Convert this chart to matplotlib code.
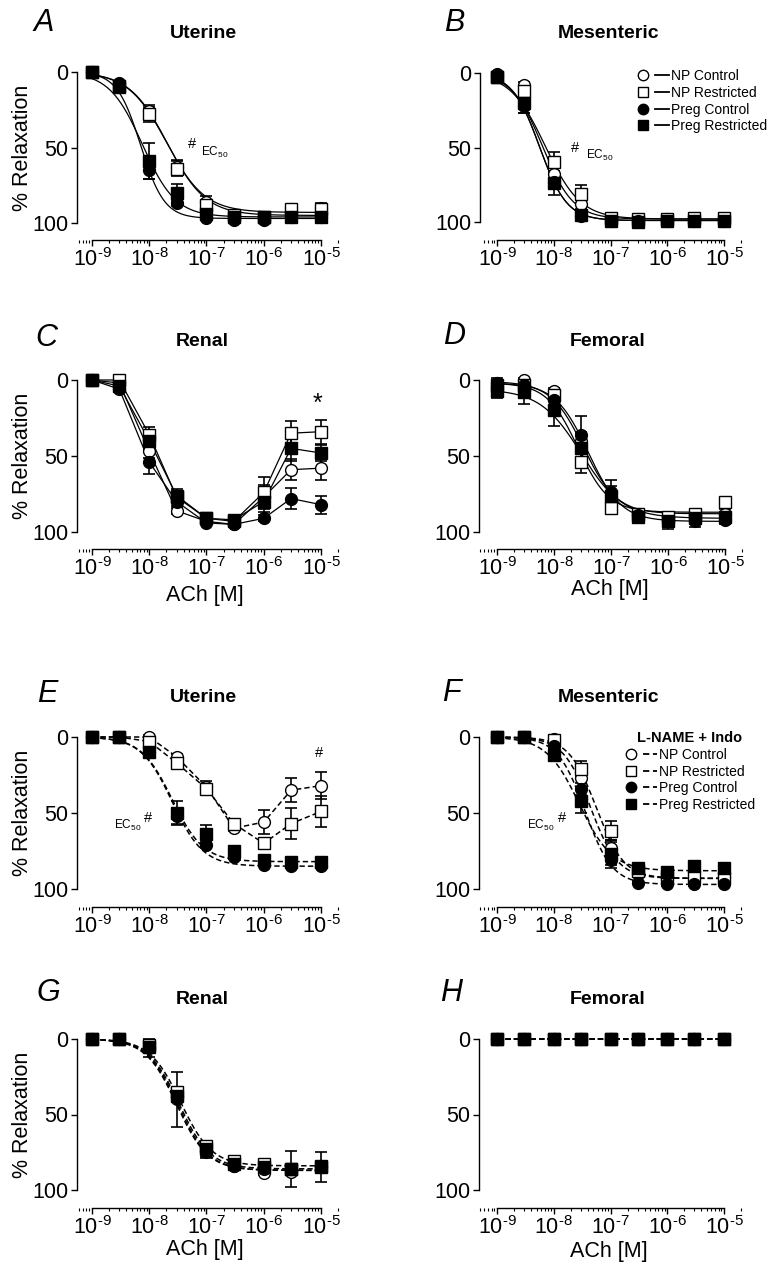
import numpy as np
import matplotlib.pyplot as plt
from matplotlib.lines import Line2D
from matplotlib.legend_handler import HandlerTuple
from matplotlib.ticker import LogLocator, NullFormatter, FixedLocator, FixedFormatter

plt.rcParams['font.family'] = ['Liberation Sans', 'DejaVu Sans']
plt.rcParams['mathtext.fontset'] = 'custom'
plt.rcParams['mathtext.rm'] = 'Liberation Sans'
plt.rcParams['mathtext.it'] = 'Liberation Sans:italic'
plt.rcParams['mathtext.bf'] = 'Liberation Sans:bold'

# ACh concentrations (M)
conc = [1e-9, 3e-9, 1e-8, 3e-8, 1e-7, 3e-7, 1e-6, 3e-6, 1e-5]
groups = ['NP Control', 'NP Restricted', 'Preg Control', 'Preg Restricted']
xtick_vals = [1e-9, 1e-8, 1e-7, 1e-6, 1e-5]
xtick_labels = ['$10^{\u2010 9}$', '$10^{\u2010 8}$', '$10^{\u2010 7}$',
                '$10^{\u2010 6}$', '$10^{\u2010 5}$']

# A - Uterine
a_np_ctrl = [0, 8, 26, 63, 86, 95, 96, 91, 90]
a_np_restr = [0, 9, 28, 64, 88, 95, 96, 91, 91]
a_preg_ctrl = [0, 7, 65, 87, 97, 98, 98, 96, 96]
a_preg_restr = [0, 10, 59, 80, 94, 96, 96, 96, 96]
a_err = [[0, 1, 4, 5, 4, 1, 1, 3, 3], [0, 1, 5, 5, 3, 1, 1, 3, 3],
         [0, 1, 6, 2, 1, 1, 1, 1, 1], [0, 2, 12, 6, 2, 1, 1, 1, 1]]
a_logec = [-7.70, -7.68, -8.15, -8.12]
a_hill = [1.3, 1.3, 2.1, 1.5]
a_max = [93, 95, 97, 96]
a_min = [0, 0, 0, 0]

# B - Mesenteric
b_np_ctrl = [2, 8, 68, 88, 98, 98, 98, 98, 98]
b_np_restr = [3, 12, 60, 81, 97, 98, 98, 97, 97]
b_preg_ctrl = [1, 22, 73, 96, 99, 99, 99, 99, 99]
b_preg_restr = [3, 20, 74, 95, 99, 100, 99, 99, 99]
b_err = [[1, 2, 4, 3, 1, 1, 1, 1, 1], [2, 3, 7, 6, 1, 1, 1, 1, 1],
         [1, 5, 5, 1, 1, 1, 1, 1, 1], [2, 7, 8, 1, 1, 1, 1, 1, 1]]
b_logec = [-8.20, -8.15, -8.25, -8.25]
b_hill = [1.6, 1.4, 1.8, 1.8]
b_max = [98, 98, 99, 99]
b_min = [0, 0, 0, 0]

# C - Renal (points joined)
c_np_ctrl = [0, 2, 47, 86, 93, 95, 77, 59, 58]
c_np_restr = [0, 0, 36, 77, 91, 93, 74, 35, 34]
c_preg_ctrl = [0, 6, 54, 80, 94, 95, 91, 78, 82]
c_preg_restr = [0, 4, 40, 76, 91, 92, 80, 45, 48]
c_err = [[0, 1, 4, 2, 1, 1, 8, 7, 8], [0, 1, 5, 3, 2, 1, 10, 8, 8],
         [0, 1, 8, 3, 1, 1, 2, 7, 6], [0, 1, 6, 4, 1, 2, 7, 8, 5]]

# D - Femoral
d_np_ctrl = [2, 0, 7, 40, 80, 88, 91, 89, 88]
d_np_restr = [3, 3, 10, 54, 84, 88, 90, 88, 80]
d_preg_ctrl = [2, 3, 13, 36, 74, 89, 93, 93, 92]
d_preg_restr = [7, 8, 20, 45, 76, 90, 93, 91, 90]
d_err = [[2, 1, 2, 6, 4, 2, 2, 2, 3], [3, 2, 3, 7, 3, 2, 2, 2, 2],
         [3, 2, 4, 12, 8, 3, 2, 4, 3], [5, 8, 10, 10, 6, 4, 5, 3, 3]]
d_logec = [-7.48, -7.58, -7.40, -7.52]
d_hill = [1.5, 1.6, 1.5, 1.2]
d_max = [88, 87, 93, 91]
d_min = [1, 2, 2, 6]

# E - Uterine, L-NAME + Indo
e_np_ctrl = [0, 0, 0, 13, 33, 60, 56, 35, 32]
e_np_restr = [0, 0, 3, 17, 34, 57, 70, 57, 49]
e_preg_ctrl = [0, 0, 10, 52, 71, 79, 84, 85, 85]
e_preg_restr = [0, 0, 10, 50, 64, 75, 81, 82, 82]
e_err = [[0, 0, 1, 2, 4, 2, 8, 8, 9], [0, 0, 1, 2, 2, 2, 2, 10, 10],
         [0, 0, 1, 5, 2, 1, 1, 1, 1], [0, 0, 2, 8, 6, 3, 1, 1, 1]]
e_logec = [None, None, -7.60, -7.60]
e_hill = [None, None, 1.6, 1.6]
e_max = [None, None, 85, 82]
e_min = [None, None, 0, 0]

# F - Mesenteric, L-NAME + Indo
f_np_ctrl = [0, 0, 1, 27, 73, 90, 93, 93, 92]
f_np_restr = [0, 0, 2, 21, 62, 88, 92, 92, 93]
f_preg_ctrl = [0, 0, 6, 34, 81, 96, 97, 97, 97]
f_preg_restr = [0, 0, 12, 42, 77, 86, 89, 85, 86]
f_err = [[0, 0, 1, 6, 5, 2, 1, 1, 1], [0, 0, 1, 5, 7, 2, 1, 1, 1],
         [0, 0, 2, 4, 3, 1, 1, 1, 1], [0, 0, 4, 8, 9, 2, 2, 2, 2]]
f_logec = [-7.35, -7.25, -7.45, -7.55]
f_hill = [1.8, 1.8, 1.8, 1.5]
f_max = [93, 93, 97, 88]
f_min = [0, 0, 0, 0]

# G - Renal, L-NAME + Indo
g_np_ctrl = [0, 0, 5, 38, 75, 84, 89, 88, 84]
g_np_restr = [0, 0, 4, 35, 71, 81, 83, 86, 84]
g_preg_ctrl = [0, 0, 6, 40, 74, 84, 86, 86, 85]
g_preg_restr = [0, 0, 5, 38, 73, 83, 85, 86, 85]
g_err = [[0, 0, 2, 4, 3, 1, 1, 2, 2], [0, 0, 2, 3, 3, 1, 2, 3, 2],
         [0, 0, 6, 18, 5, 2, 2, 12, 3], [0, 0, 2, 4, 3, 1, 2, 3, 10]]
g_logec = [-7.50, -7.45, -7.52, -7.48]
g_hill = [1.6, 1.6, 1.6, 1.6]
g_max = [87, 84, 87, 86]
g_min = [0, 0, 0, 0]

# H - Femoral, L-NAME + Indo (no relaxation)
h_np_ctrl = [0, 0, 0, 0, 0, 0, 0, 0, 0]
h_np_restr = [0, 0, 0, 0, 0, 0, 0, 0, 0]
h_preg_ctrl = [0, 0, 0, 0, 0, 0, 0, 0, 0]
h_preg_restr = [0, 0, 0, 0, 0, 0, 0, 0, 0]

W, H = 779, 1265
fig = plt.figure(figsize=(W / 100, H / 100), dpi=100)

markers = ['o', 's', 'o', 's']
faces = ['white', 'white', 'black', 'black']
DASH = (0, (3.5, 2))


def fx(x):
    return x / W


def fy(y):
    return 1 - y / H


def make_axes(sx, y0, y100, xa, x9, x5):
    right = x5 + 24
    top = y0 - 12
    ax = fig.add_axes([fx(sx), fy(xa), (right - sx) / W, (xa - top) / H])
    dec = (x5 - x9) / 4
    ax.set_xscale('log')
    ax.set_xlim(10 ** (-9 - (x9 - sx) / dec), 10 ** (-5 + (right - x5) / dec))
    per = 100 / (y100 - y0)
    ax.set_ylim(100 + (xa - y100) * per, -(y0 - top) * per)
    for s in ['top', 'right']:
        ax.spines[s].set_visible(False)
    ax.spines['left'].set_bounds(0, 100)
    ax.spines['bottom'].set_bounds(1e-9, 1e-5)
    for s in ['left', 'bottom']:
        ax.spines[s].set_linewidth(1.0)
    ax.set_yticks([0, 50, 100])
    ax.set_yticklabels(['0', '50', '100'])
    ax.xaxis.set_major_locator(FixedLocator(xtick_vals))
    ax.xaxis.set_major_formatter(FixedFormatter(xtick_labels))
    ax.xaxis.set_minor_locator(LogLocator(base=10, subs=np.arange(2, 10), numticks=20))
    ax.xaxis.set_minor_formatter(NullFormatter())
    ax.tick_params(axis='y', length=4.5, width=1.0, pad=1.5, labelsize=15.5)
    ax.tick_params(axis='x', which='major', length=4, width=1.0, pad=2, labelsize=15.5)
    ax.tick_params(axis='x', which='minor', length=2.5, width=0.8)
    ax.patch.set_alpha(0)
    return ax


def sigmoid(lx, logec, hill, ymax, ymin):
    return ymin + (ymax - ymin) / (1 + 10 ** ((logec - lx) * hill))


def draw(ax, series, errs, fits=None, dashed=False):
    ls = DASH if dashed else '-'
    lw = 1.1 if dashed else 0.9
    lx = np.linspace(-9, -5, 300)
    for i, ys in enumerate(series):
        if fits is not None and fits[0][i] is not None:
            yfit = sigmoid(lx, fits[0][i], fits[1][i], fits[2][i], fits[3][i])
            ax.plot(10 ** lx, yfit, color='black', lw=lw, ls=ls, zorder=2, clip_on=False)
        else:
            ax.plot(conc, ys, color='black', lw=lw, ls=ls, zorder=2, clip_on=False)
        if errs is not None:
            ax.errorbar(conc, ys, yerr=errs[i], fmt='none', ecolor='black',
                        elinewidth=1.2, capsize=4, capthick=1.2, zorder=3, clip_on=False)
    for i, ys in enumerate(series):
        ax.plot(conc, ys, ls='none', marker=markers[i], ms=8.5, mfc=faces[i],
                mec='black', mew=1.0, zorder=4 + i, clip_on=False)


def add_legend(ax, x, y, dashed, title=None):
    ls = DASH if dashed else '-'
    handles = []
    for i in range(4):
        m = Line2D([], [], ls='none', marker=markers[i], ms=7.5, mfc=faces[i], mec='black', mew=1.0)
        ln = Line2D([], [], color='black', lw=1.3, ls=ls)
        handles.append((m, ln))
    leg = ax.legend(handles, groups, handler_map={tuple: HandlerTuple(ndivide=None, pad=0.4)},
                    loc='upper left', bbox_to_anchor=(fx(x), fy(y)), bbox_transform=fig.transFigure,
                    frameon=False, fontsize=10, handlelength=2.4, handletextpad=0.1,
                    labelspacing=0.2, borderpad=0, borderaxespad=0, title=title)
    if title:
        leg.get_title().set_fontweight('bold')
        leg.get_title().set_fontsize(10.5)
    return leg


# pixel layout: y-spine x, y of 0, y of 100, x-axis y, x of 1e-9, x of 1e-5
layout = {
    'A': (77, 72, 223, 240, 92, 321),
    'B': (480, 73, 222, 240, 497, 724),
    'C': (77, 380, 532, 549, 92, 321),
    'D': (479, 380, 532, 549, 497, 725),
    'E': (77, 737, 889, 907, 92, 321),
    'F': (479, 737, 889, 907, 497, 724),
    'G': (77, 1039, 1190, 1208, 92, 321),
    'H': (479, 1039, 1190, 1208, 497, 724),
}

axs = {k: make_axes(*v) for k, v in layout.items()}

draw(axs['A'], [a_np_ctrl, a_np_restr, a_preg_ctrl, a_preg_restr], a_err,
     (a_logec, a_hill, a_max, a_min))
draw(axs['B'], [b_np_ctrl, b_np_restr, b_preg_ctrl, b_preg_restr], b_err,
     (b_logec, b_hill, b_max, b_min))
draw(axs['C'], [c_np_ctrl, c_np_restr, c_preg_ctrl, c_preg_restr], c_err)
draw(axs['D'], [d_np_ctrl, d_np_restr, d_preg_ctrl, d_preg_restr], d_err,
     (d_logec, d_hill, d_max, d_min))
draw(axs['E'], [e_np_ctrl, e_np_restr, e_preg_ctrl, e_preg_restr], e_err,
     (e_logec, e_hill, e_max, e_min), dashed=True)
draw(axs['F'], [f_np_ctrl, f_np_restr, f_preg_ctrl, f_preg_restr], f_err,
     (f_logec, f_hill, f_max, f_min), dashed=True)
draw(axs['G'], [g_np_ctrl, g_np_restr, g_preg_ctrl, g_preg_restr], g_err,
     (g_logec, g_hill, g_max, g_min), dashed=True)
draw(axs['H'], [h_np_ctrl, h_np_restr, h_preg_ctrl, h_preg_restr], None, dashed=True)

add_legend(axs['B'], 636, 69, dashed=False)
add_legend(axs['F'], 624, 731, dashed=True, title='L-NAME + Indo')

# panel letters and titles
letters = {'A': (33, 23), 'B': (444, 23), 'C': (35, 338), 'D': (443, 336),
           'E': (37, 694), 'F': (442, 693), 'G': (37, 993), 'H': (440, 993)}
for k, (x, y) in letters.items():
    fig.text(fx(x), fy(y), k, fontsize=22, style='italic', ha='left', va='center')

titles = [('Uterine', 203, 33), ('Mesenteric', 609, 33), ('Renal', 202, 342),
          ('Femoral', 608, 341), ('Uterine', 203, 697), ('Mesenteric', 609, 697),
          ('Renal', 202, 1000), ('Femoral', 608, 1000)]
for t, x, y in titles:
    fig.text(fx(x), fy(y), t, fontsize=14, fontweight='bold', ha='center', va='center')

for y in [148, 456, 813, 1115]:
    fig.text(fx(23), fy(y), '% Relaxation', fontsize=15.5, rotation=90, ha='center', va='center')

for x, y in [(205, 596), (610, 590), (205, 1249), (609, 1252)]:
    fig.text(fx(x), fy(y), 'ACh [M]', fontsize=15.5, ha='center', va='center')

# significance marks
fig.text(fx(192), fy(144), '#', fontsize=10.5, ha='center', va='center')
fig.text(fx(215), fy(152), 'EC$_{50}$', fontsize=8.5, ha='center', va='center')
fig.text(fx(575), fy(148), '#', fontsize=10.5, ha='center', va='center')
fig.text(fx(600), fy(155), 'EC$_{50}$', fontsize=8.5, ha='center', va='center')
fig.text(fx(317), fy(404), '*', fontsize=18, ha='center', va='center')
fig.text(fx(128), fy(825), 'EC$_{50}$', fontsize=8.5, ha='center', va='center')
fig.text(fx(148), fy(818), '#', fontsize=10.5, ha='center', va='center')
fig.text(fx(319), fy(753), '#', fontsize=10.5, ha='center', va='center')
fig.text(fx(541), fy(825), 'EC$_{50}$', fontsize=8.5, ha='center', va='center')
fig.text(fx(562), fy(818), '#', fontsize=10.5, ha='center', va='center')

fig.savefig('out.png', dpi=100)
